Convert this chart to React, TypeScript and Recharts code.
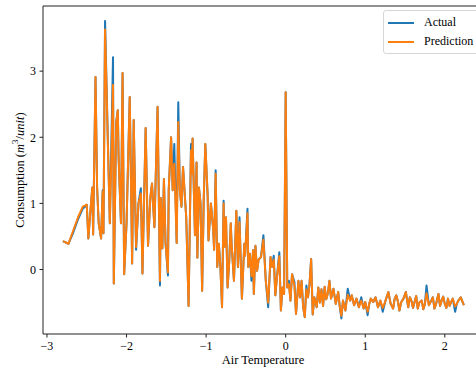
import React from 'react';
import { LineChart, Line, XAxis, YAxis, Legend, ReferenceLine } from 'recharts';

// Air temperature (standardised), one entry per observation
const temperature = [
  -2.8, -2.73, -2.67, -2.61, -2.55, -2.5, -2.48, -2.45, -2.43, -2.42,
  -2.39, -2.37, -2.35, -2.32, -2.3, -2.29, -2.27, -2.21, -2.17, -2.16,
  -2.13, -2.11, -2.1, -2.07, -2.05, -2.03, -2.0, -1.96, -1.94, -1.93,
  -1.91, -1.88, -1.85, -1.82, -1.8, -1.76, -1.73, -1.7, -1.68, -1.65,
  -1.61, -1.58, -1.57, -1.55, -1.53, -1.51, -1.48, -1.47, -1.44, -1.42,
  -1.4, -1.37, -1.35, -1.33, -1.31, -1.29, -1.25, -1.22, -1.19, -1.18,
  -1.17, -1.14, -1.12, -1.11, -1.09, -1.07, -1.05, -1.03, -1.01, -0.98,
  -0.97, -0.94, -0.91, -0.9, -0.88, -0.86, -0.84, -0.82, -0.8, -0.78,
  -0.77, -0.75, -0.73, -0.71, -0.69, -0.68, -0.65, -0.62, -0.6, -0.58,
  -0.57, -0.55, -0.52, -0.51, -0.48, -0.47, -0.45, -0.43, -0.41, -0.4,
  -0.38, -0.36, -0.34, -0.31, -0.28, -0.25, -0.22, -0.19, -0.17, -0.15,
  -0.13, -0.11, -0.08, -0.06, -0.04, -0.02, 0.0, 0.02, 0.04, 0.06,
  0.08, 0.11, 0.13, 0.16, 0.18, 0.2, 0.22, 0.24, 0.26, 0.28,
  0.3, 0.32, 0.34, 0.36, 0.39, 0.41, 0.43, 0.45, 0.47, 0.49,
  0.51, 0.53, 0.55, 0.57, 0.6, 0.63, 0.66, 0.68, 0.7, 0.72,
  0.75, 0.78, 0.81, 0.83, 0.86, 0.89, 0.92, 0.95, 0.98, 1.0,
  1.03, 1.05, 1.07, 1.1, 1.13, 1.16, 1.19, 1.22, 1.25, 1.29,
  1.32, 1.35, 1.37, 1.39, 1.41, 1.43, 1.45, 1.48, 1.51, 1.54,
  1.56, 1.58, 1.6, 1.62, 1.64, 1.66, 1.68, 1.71, 1.73, 1.75,
  1.77, 1.8, 1.83, 1.85, 1.87, 1.89, 1.92, 1.94, 1.96, 1.98,
  2.0, 2.02, 2.04, 2.06, 2.08, 2.1, 2.13, 2.15, 2.17, 2.2,
  2.24,
];

const actual = [
  0.43, 0.39, 0.56, 0.76, 0.92, 0.98, 0.47, 0.95, 1.24, 0.53,
  2.91, 1.24, 0.7, 0.47, 1.2, 0.55, 3.76, 0.7, 3.21, -0.21,
  2.23, 2.41, 1.7, 0.7, 2.97, -0.07, 0.7, 2.61, 1.01, 0.09,
  2.26, 0.3, 1.0, 1.23, -0.06, 2.14, 0.36, 1.1, 1.3, 0.64,
  2.46, -0.24, 1.08, 0.32, 1.37, 0.4, -0.09, 1.2, 2.0, 1.2,
  1.9, 0.4, 2.53, 1.2, 0.95, 1.55, 0.79, -0.55, 1.9, 1.45,
  1.98, 0.52, 1.62, 0.18, 1.24, 1.0, -0.32, 1.06, 1.9, 1.1,
  0.44, 1.0, 0.6, 0.3, 1.5, 0.04, 0.39, 0.03, -0.57, 1.04,
  0.34, 0.79, -0.27, 0.11, 0.7, 0.39, -0.17, 0.89, 0.04, 0.79,
  0.34, -0.44, 0.39, 0.21, 0.92, 0.04, 0.24, -0.17, 0.29, -0.37,
  0.36, -0.02, 0.15, 0.19, 0.52, -0.17, -0.57, 0.19, 0.04, 0.21,
  -0.39, -0.12, 0.26, -0.62, -0.27, -0.37, 2.68, -0.27, -0.17, -0.47,
  -0.07, -0.19, -0.67, -0.17, -0.42, -0.17, -0.57, -0.72, -0.24, -0.42,
  -0.22, 0.16, -0.68, -0.42, -0.57, -0.27, -0.5, -0.3, -0.55, -0.26,
  -0.45, -0.36, -0.17, -0.44, -0.29, -0.52, -0.34, -0.56, -0.74, -0.47,
  -0.62, -0.29, -0.47, -0.39, -0.54, -0.44, -0.57, -0.42, -0.59, -0.49,
  -0.69, -0.52, -0.44, -0.49, -0.42, -0.57, -0.47, -0.64, -0.49, -0.34,
  -0.52, -0.59, -0.44, -0.39, -0.48, -0.62, -0.5, -0.44, -0.34, -0.57,
  -0.42, -0.47, -0.58, -0.49, -0.4, -0.59, -0.5, -0.47, -0.6, -0.52,
  -0.24, -0.54, -0.47, -0.42, -0.59, -0.52, -0.37, -0.55, -0.47, -0.41,
  -0.52, -0.58, -0.44, -0.55, -0.49, -0.44, -0.64, -0.52, -0.47, -0.42,
  -0.54,
];

const prediction = [
  0.43, 0.39, 0.59, 0.79, 0.95, 0.98, 0.47, 0.95, 1.24, 0.53,
  2.91, 1.24, 0.7, 0.47, 1.18, 0.55, 3.63, 0.7, 2.79, -0.21,
  2.23, 2.41, 1.7, 0.7, 2.97, -0.07, 0.7, 2.61, 1.01, 0.09,
  2.26, 0.34, 1.0, 1.15, -0.06, 2.14, 0.36, 1.1, 1.3, 0.64,
  2.46, -0.17, 1.08, 0.32, 1.37, 0.4, -0.04, 1.2, 2.0, 1.2,
  1.6, 0.4, 2.23, 1.2, 0.95, 1.55, 0.79, -0.55, 1.8, 1.45,
  1.98, 0.52, 1.62, 0.18, 1.24, 1.0, -0.32, 1.06, 1.9, 1.1,
  0.44, 1.0, 0.6, 0.3, 1.45, 0.04, 0.39, 0.03, -0.57, 1.0,
  0.34, 0.79, -0.27, 0.11, 0.7, 0.39, -0.17, 0.89, 0.04, 0.72,
  0.34, -0.44, 0.39, 0.21, 0.85, 0.04, 0.24, -0.1, 0.29, -0.37,
  0.36, -0.02, 0.15, 0.19, 0.45, -0.17, -0.5, 0.19, 0.04, 0.15,
  -0.39, -0.12, 0.2, -0.62, -0.27, -0.37, 2.68, -0.27, -0.22, -0.47,
  -0.07, -0.25, -0.67, -0.17, -0.42, -0.17, -0.57, -0.72, -0.3, -0.42,
  -0.22, 0.16, -0.68, -0.42, -0.57, -0.27, -0.5, -0.3, -0.55, -0.26,
  -0.45, -0.36, -0.17, -0.44, -0.29, -0.52, -0.34, -0.56, -0.7, -0.47,
  -0.62, -0.38, -0.47, -0.39, -0.54, -0.44, -0.57, -0.47, -0.59, -0.49,
  -0.64, -0.52, -0.44, -0.49, -0.42, -0.57, -0.47, -0.58, -0.49, -0.34,
  -0.52, -0.59, -0.44, -0.39, -0.48, -0.62, -0.5, -0.44, -0.34, -0.57,
  -0.42, -0.47, -0.58, -0.49, -0.4, -0.59, -0.5, -0.47, -0.6, -0.52,
  -0.36, -0.54, -0.47, -0.42, -0.59, -0.52, -0.37, -0.55, -0.47, -0.41,
  -0.52, -0.58, -0.44, -0.55, -0.49, -0.44, -0.56, -0.52, -0.47, -0.42,
  -0.54,
];

const xTicks = [-3, -2, -1, 0, 1, 2];
const yTicks = [0, 1, 2, 3];

const chartData = temperature.map((t, i) => ({
  t,
  actual: actual[i],
  prediction: prediction[i],
}));

const FONT = '"Liberation Serif", "Times New Roman", serif';
const AXIS = '#222';

const fmt = (v: number) => String(v).replace('-', '\u2212');

const series = [
  { key: 'actual', name: 'Actual', color: '#1f77b4' },
  { key: 'prediction', name: 'Prediction', color: '#ff7f0e' },
];

const renderLegend = () => (
  <div
    style={{
      background: 'rgba(255,255,255,0.8)',
      border: '1px solid #d6d6d6',
      borderRadius: 3,
      padding: '2px 10px 2px 4px',
      fontFamily: FONT,
      fontSize: 12,
      color: '#000',
      lineHeight: '19px',
    }}
  >
    {series.map((s) => (
      <div key={s.key} style={{ display: 'flex', alignItems: 'center' }}>
        <span
          style={{
            display: 'inline-block',
            width: 26,
            height: 2,
            background: s.color,
            marginRight: 10,
          }}
        />
        {s.name}
      </div>
    ))}
  </div>
);

const renderYLabel = () => (
  <text
    x={20}
    y={170}
    transform="rotate(-90, 20, 170)"
    textAnchor="middle"
    dominantBaseline="central"
    fontFamily={FONT}
    fontSize={12.5}
    fill="#000"
  >
    Consumption (<tspan fontStyle="italic">m</tspan>
    <tspan fontSize={9} dy={-5}>3</tspan>
    <tspan dy={5}>/</tspan>
    <tspan fontStyle="italic">unit</tspan>)
  </text>
);

export default function App() {
  return (
    <div
      style={{
        position: 'fixed',
        left: 0,
        top: 0,
        width: 476,
        height: 372,
        overflow: 'hidden',
        background: '#fff',
      }}
    >
      <LineChart
        width={483}
        height={372}
        data={chartData}
        margin={{ top: 6, right: 0, left: 0, bottom: 0 }}
      >
        <XAxis
          dataKey="t"
          type="number"
          domain={[-3.05, 2.48]}
          ticks={xTicks}
          allowDataOverflow
          height={38}
          tickFormatter={fmt}
          tickSize={3.5}
          tickMargin={4}
          stroke={AXIS}
          tick={{ fill: '#000', fontFamily: FONT, fontSize: 12 }}
          label={{
            value: 'Air Temperature',
            position: 'insideBottom',
            offset: 8,
            fill: '#000',
            fontFamily: FONT,
            fontSize: 12.5,
          }}
        />
        <YAxis
          type="number"
          domain={[-0.975, 3.985]}
          ticks={yTicks}
          allowDataOverflow
          width={43}
          tickFormatter={fmt}
          tickSize={3.5}
          tickMargin={3.5}
          stroke={AXIS}
          tick={{ fill: '#000', fontFamily: FONT, fontSize: 12 }}
          label={{ content: renderYLabel }}
        />
        <ReferenceLine y={3.985} stroke={AXIS} strokeWidth={1} />
        <Legend
          layout="horizontal"
          verticalAlign="middle"
          align="center"
          content={renderLegend}
          wrapperStyle={{ left: 383, top: 10, width: 'auto', height: 'auto' }}
        />
        {series.map((s) => (
          <Line
            key={s.key}
            type="linear"
            dataKey={s.key}
            name={s.name}
            stroke={s.color}
            strokeWidth={2}
            strokeLinejoin="round"
            dot={false}
            activeDot={false}
            isAnimationActive={false}
          />
        ))}
      </LineChart>
    </div>
  );
}
